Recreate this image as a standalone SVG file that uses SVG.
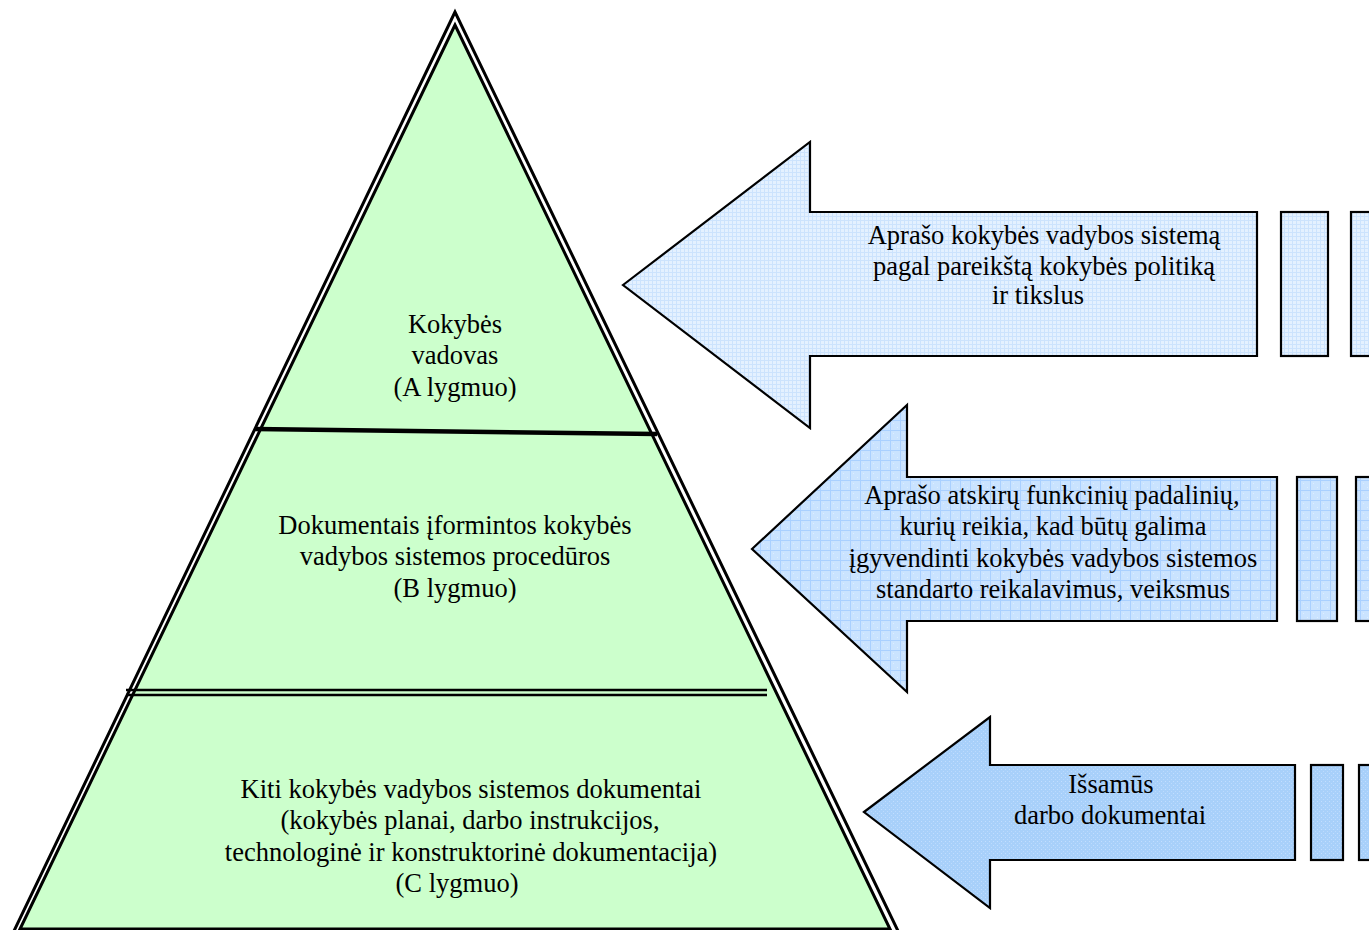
<svg xmlns="http://www.w3.org/2000/svg" width="1369" height="930" viewBox="0 0 1369 930">
  <defs>
    <!-- light mesh fill for the top arrow -->
    <pattern id="mesh1" width="4" height="4" patternUnits="userSpaceOnUse">
      <rect width="4" height="4" fill="#E4F1FF"/>
      <path d="M0 0.5H4M0.5 0V4" stroke="#CCE3FD" stroke-width="1"/>
    </pattern>
    <!-- medium grid fill for the middle arrow -->
    <pattern id="mesh2" width="10" height="10" patternUnits="userSpaceOnUse">
      <rect width="10" height="10" fill="#CAE3FF"/>
      <path d="M0 0.5H10M0.5 0V10" stroke="#AAD0FF" stroke-width="1"/>
      <path d="M3 3h1v1h-1zM7 7h1v1h-1z" fill="#DDEEFF"/>
    </pattern>
    <!-- darker dotted fill for the bottom arrow -->
    <pattern id="mesh3" width="4" height="4" patternUnits="userSpaceOnUse">
      <rect width="4" height="4" fill="#A8D0FA"/>
      <rect x="1" y="1" width="1" height="1" fill="#C2DEFF"/>
      <rect x="3" y="3" width="1" height="1" fill="#BCDAFD"/>
    </pattern>
  </defs>
  <style>
    .lbl { font-family: "Liberation Serif", "Times New Roman", serif; font-size: 26.5px; fill: #000; text-anchor: middle; }
    .arrow { stroke: #000; stroke-width: 2.2; stroke-linejoin: miter; }
  </style>

  <rect width="1369" height="930" fill="#FFFFFF"/>

  <!-- pyramid with double outline -->
  <g id="pyramid">
    <polygon points="455,12 13,933 899,933" fill="#FFFFFF" stroke="#000" stroke-width="3"/>
    <polygon points="455,25 20,929 890,929" fill="#CCFFCC" stroke="#000" stroke-width="3"/>
    <line x1="255" y1="429" x2="657" y2="434" stroke="#000" stroke-width="4.5"/>
    <line x1="126" y1="690" x2="767" y2="690" stroke="#000" stroke-width="2.5"/>
    <line x1="126" y1="695" x2="767" y2="695" stroke="#000" stroke-width="2.5"/>
  </g>

  <g id="level-a">
    <text class="lbl" x="455" y="333">Kokybės</text>
    <text class="lbl" x="455" y="364">vadovas</text>
    <text class="lbl" x="455" y="396">(A lygmuo)</text>
  </g>

  <g id="level-b">
    <text class="lbl" x="455" y="534">Dokumentais įformintos kokybės</text>
    <text class="lbl" x="455" y="565">vadybos sistemos procedūros</text>
    <text class="lbl" x="455" y="597">(B lygmuo)</text>
  </g>

  <g id="level-c">
    <text class="lbl" x="471" y="798">Kiti kokybės vadybos sistemos dokumentai</text>
    <text class="lbl" x="470" y="829">(kokybės planai, darbo instrukcijos,</text>
    <text class="lbl" x="471" y="861">technologinė ir konstruktorinė dokumentacija)</text>
    <text class="lbl" x="457" y="892">(C lygmuo)</text>
  </g>

  <!-- arrows pointing at the pyramid levels -->
  <g id="connectors">
    <g id="arrow-a">
      <polygon class="arrow" fill="url(#mesh1)" points="623,285 810,142 810,212 1257,212 1257,356 810,356 810,428"/>
      <rect class="arrow" fill="url(#mesh1)" x="1281" y="212" width="47" height="144"/>
      <rect class="arrow" fill="url(#mesh1)" x="1351" y="212" width="40" height="144"/>
      <text class="lbl" x="1044" y="244">Aprašo kokybės vadybos sistemą</text>
      <text class="lbl" x="1044" y="275">pagal pareikštą kokybės politiką</text>
      <text class="lbl" x="1038" y="304">ir tikslus</text>
    </g>
    <g id="arrow-b">
      <polygon class="arrow" fill="url(#mesh2)" points="752,549 907,405 907,477 1277,477 1277,621 907,621 907,692"/>
      <rect class="arrow" fill="url(#mesh2)" x="1297" y="477" width="40" height="144"/>
      <rect class="arrow" fill="url(#mesh2)" x="1356" y="477" width="40" height="144"/>
      <text class="lbl" x="1052" y="504">Aprašo atskirų funkcinių padalinių,</text>
      <text class="lbl" x="1053" y="535">kurių reikia, kad būtų galima</text>
      <text class="lbl" x="1053" y="567">įgyvendinti kokybės vadybos sistemos</text>
      <text class="lbl" x="1053" y="598">standarto reikalavimus, veiksmus</text>
    </g>
    <g id="arrow-c">
      <polygon class="arrow" fill="url(#mesh3)" points="864,812 990,717 990,765 1295,765 1295,860 990,860 990,908"/>
      <rect class="arrow" fill="url(#mesh3)" x="1311" y="765" width="32" height="95"/>
      <rect class="arrow" fill="url(#mesh3)" x="1359" y="765" width="32" height="95"/>
      <text class="lbl" x="1111" y="793">Išsamūs</text>
      <text class="lbl" x="1110" y="824">darbo dokumentai</text>
    </g>
  </g>
</svg>
